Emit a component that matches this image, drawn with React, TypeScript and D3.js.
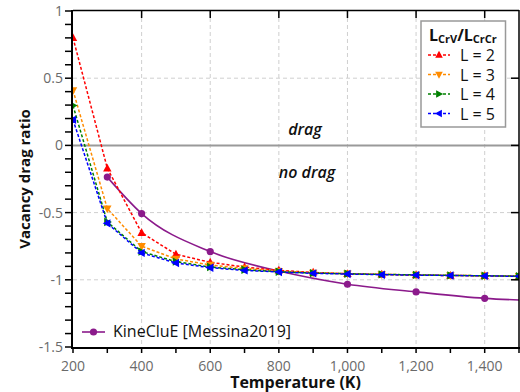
import React from "react";
import * as d3 from "d3";

// Temperatures (K) for the cluster-expansion series
const temps = [200, 300, 400, 500, 600, 700, 800, 900, 1000, 1100, 1200, 1300, 1400, 1500];
const l2 = [0.8, -0.17, -0.65, -0.81, -0.87, -0.905, -0.93, -0.945, -0.955, -0.96, -0.965, -0.968, -0.97, -0.975];
const l3 = [0.41, -0.47, -0.75, -0.845, -0.89, -0.915, -0.935, -0.948, -0.955, -0.96, -0.963, -0.967, -0.97, -0.973];
const l4 = [0.296, -0.57, -0.79, -0.865, -0.905, -0.925, -0.94, -0.95, -0.955, -0.96, -0.963, -0.967, -0.97, -0.973];
const l5 = [0.19, -0.58, -0.8, -0.875, -0.91, -0.93, -0.942, -0.952, -0.957, -0.962, -0.965, -0.968, -0.971, -0.974];

// KineCluE reference values
const kineTemps = [300, 400, 600, 800, 1000, 1200, 1400, 1600];
const kineVals = [-0.236, -0.507, -0.79, -0.935, -1.033, -1.09, -1.138, -1.158];

const seriesLabels = ["L = 2", "L = 3", "L = 4", "L = 5"];
const seriesColors = ["#ff0000", "#ff8c00", "#008000", "#0000ff"];
const seriesShapes = ["up", "down", "right", "left"];
const seriesValues = [l2, l3, l4, l5];

const xMajor = [200, 400, 600, 800, 1000, 1200, 1400];
const yMajor = [1, 0.5, 0, -0.5, -1, -1.5];
const yTickLabels = ["1", "0.5", "0", "-0.5", "-1", "-1.5"];

const W = 520;
const H = 392;
const X0 = 73;
const X1 = 519;
const Y0 = 11;
const Y1 = 347;

const x = d3.scaleLinear().domain([200, 1500]).range([X0, X1]);
const y = d3.scaleLinear().domain([-1.5, 1]).range([Y1, Y0]);

const FONT = "'Open Sans', 'Noto Sans', sans-serif";

function triPath(shape: string, r = 4.2): string {
  const base: [number, number][] = [
    [0, -r * 1.1],
    [r, r * 0.75],
    [-r, r * 0.75],
  ];
  const ang = { up: 0, right: 90, down: 180, left: 270 }[shape] as number;
  const rad = (ang * Math.PI) / 180;
  const pts = base.map(([px, py]) => [
    px * Math.cos(rad) - py * Math.sin(rad),
    px * Math.sin(rad) + py * Math.cos(rad),
  ]);
  return "M" + pts.map((p) => p[0].toFixed(2) + "," + p[1].toFixed(2)).join("L") + "Z";
}

export default function App() {
  const dashedLine = d3
    .line<[number, number]>()
    .x((d) => x(d[0]))
    .y((d) => y(d[1]));
  const smoothLine = d3
    .line<[number, number]>()
    .x((d) => x(d[0]))
    .y((d) => y(d[1]))
    .curve(d3.curveMonotoneX);

  const minorY = d3.range(-15, 11).map((v) => v / 10);
  const minorX = d3.range(200, 1501, 100);

  const legendRows = [0, 1, 2, 3];

  return (
    <svg
      width={W}
      height={H}
      style={{ position: "absolute", left: 0, top: 0, background: "#fff" }}
      fontFamily={FONT}
    >
      <defs>
        <clipPath id="plotClip">
          <rect x={X0} y={Y0} width={X1 - X0} height={Y1 - Y0} />
        </clipPath>
      </defs>

      {/* grid */}
      <g stroke="#cfcfcf" strokeWidth={1} strokeDasharray="4,3">
        {xMajor.slice(1).map((t) => (
          <line key={"gx" + t} x1={x(t)} x2={x(t)} y1={Y0} y2={Y1} />
        ))}
        {yMajor
          .filter((v) => v !== 0 && v !== 1 && v !== -1.5)
          .map((v) => (
            <line key={"gy" + v} x1={X0} x2={X1} y1={y(v)} y2={y(v)} />
          ))}
      </g>
      <line x1={X0} x2={X1} y1={y(0)} y2={y(0)} stroke="#9a9a9a" strokeWidth={2} />

      <text x={305} y={135} textAnchor="middle" fontSize={16} fontWeight={600} fontStyle="italic" fill="#111">
        drag
      </text>
      <text x={307} y={178} textAnchor="middle" fontSize={16} fontWeight={600} fontStyle="italic" fill="#111">
        no drag
      </text>

      <g clipPath="url(#plotClip)">
        {/* KineCluE curve */}
        <path
          d={smoothLine(kineTemps.map((t, i) => [t, kineVals[i]] as [number, number])) || ""}
          fill="none"
          stroke="#8b1a8b"
          strokeWidth={1.6}
        />
        {kineTemps.map((t, i) => (
          <circle key={"k" + t} cx={x(t)} cy={y(kineVals[i])} r={3.6} fill="#8b1a8b" />
        ))}

        {seriesValues.map((vals, si) => (
          <g key={"s" + si}>
            <path
              d={dashedLine(temps.map((t, i) => [t, vals[i]] as [number, number])) || ""}
              fill="none"
              stroke={seriesColors[si]}
              strokeWidth={1.5}
              strokeDasharray="3,2"
            />
            {temps.map((t, i) => (
              <path
                key={"m" + t}
                d={triPath(seriesShapes[si])}
                transform={`translate(${x(t)},${y(vals[i])})`}
                fill={seriesColors[si]}
              />
            ))}
          </g>
        ))}
      </g>

      {/* frame */}
      <g stroke="#000" fill="none">
        <line x1={X0} x2={X1} y1={Y0 - 0.5} y2={Y0 - 0.5} strokeWidth={1.5} />
        <line x1={X1} x2={X1} y1={Y0 - 1} y2={Y1} strokeWidth={1.5} />
        <line x1={X0 - 1} x2={X0 - 1} y1={Y0 - 1} y2={Y1 + 1} strokeWidth={2} />
        <line x1={X0 - 2} x2={X1 + 1} y1={Y1 + 1} y2={Y1 + 1} strokeWidth={2} />
        {/* left minor ticks */}
        {minorY.map((v) => (
          <line key={"ly" + v} x1={X0 - 8} x2={X0 - 1} y1={y(v)} y2={y(v)} strokeWidth={1.5} />
        ))}
        {/* right inward ticks */}
        {yMajor
          .filter((v) => v !== 1 && v !== -1.5)
          .map((v) => (
            <line key={"ry" + v} x1={X1 - 8} x2={X1} y1={y(v)} y2={y(v)} strokeWidth={1.5} />
          ))}
        {/* top inward ticks */}
        {xMajor.slice(1).map((t) => (
          <line key={"tx" + t} x1={x(t)} x2={x(t)} y1={Y0} y2={Y0 + 7} strokeWidth={1.5} />
        ))}
        {/* bottom ticks */}
        {minorX.map((t) => (
          <line key={"bx" + t} x1={x(t)} x2={x(t)} y1={Y1 + 1} y2={Y1 + 6} strokeWidth={1.5} />
        ))}
      </g>

      {/* tick labels */}
      <g fontSize={14} fill="#6a6a6a">
        {yMajor.map((v, i) => (
          <text key={"yl" + v} x={63} y={y(v) + 5} textAnchor="end">
            {yTickLabels[i]}
          </text>
        ))}
        {xMajor.map((t) => (
          <text key={"xl" + t} x={x(t)} y={371} textAnchor="middle">
            {d3.format(",")(t)}
          </text>
        ))}
      </g>

      {/* axis titles */}
      <text x={295.5} y={388} textAnchor="middle" fontSize={16} fontWeight={700} fill="#111">
        Temperature (K)
      </text>
      <text
        transform={`translate(29.5,${(Y0 + Y1) / 2}) rotate(-90)`}
        textAnchor="middle"
        fontSize={15}
        fontWeight={700}
        fill="#111"
      >
        Vacancy drag ratio
      </text>

      {/* series legend */}
      <rect x={421} y={21} width={84.5} height={106} fill="#fff" stroke="#999" strokeWidth={1.5} />
      <text x={429} y={41} fontWeight={700} fill="#111" fontSize={16}>
        L<tspan fontSize={11} dy={2}>CrV</tspan>
        <tspan dy={-2}>/L</tspan>
        <tspan fontSize={11} dy={2}>CrCr</tspan>
      </text>
      {legendRows.map((i) => {
        const cy = 55 + i * 19.5;
        return (
          <g key={"lg" + i}>
            <line
              x1={428}
              x2={450}
              y1={cy}
              y2={cy}
              stroke={seriesColors[i]}
              strokeWidth={1.5}
              strokeDasharray="3,2"
            />
            <path d={triPath(seriesShapes[i], 3.8)} transform={`translate(439,${cy})`} fill={seriesColors[i]} />
            <text x={460} y={cy + 6} fontSize={16} fill="#111">
              {seriesLabels[i]}
            </text>
          </g>
        );
      })}

      {/* reference legend */}
      <line x1={82} x2={105} y1={332} y2={332} stroke="#8b1a8b" strokeWidth={1.6} />
      <circle cx={93.5} cy={332} r={3.6} fill="#8b1a8b" />
      <text x={113} y={337} fontSize={16} fill="#111">
        KineCluE [Messina2019]
      </text>
    </svg>
  );
}
